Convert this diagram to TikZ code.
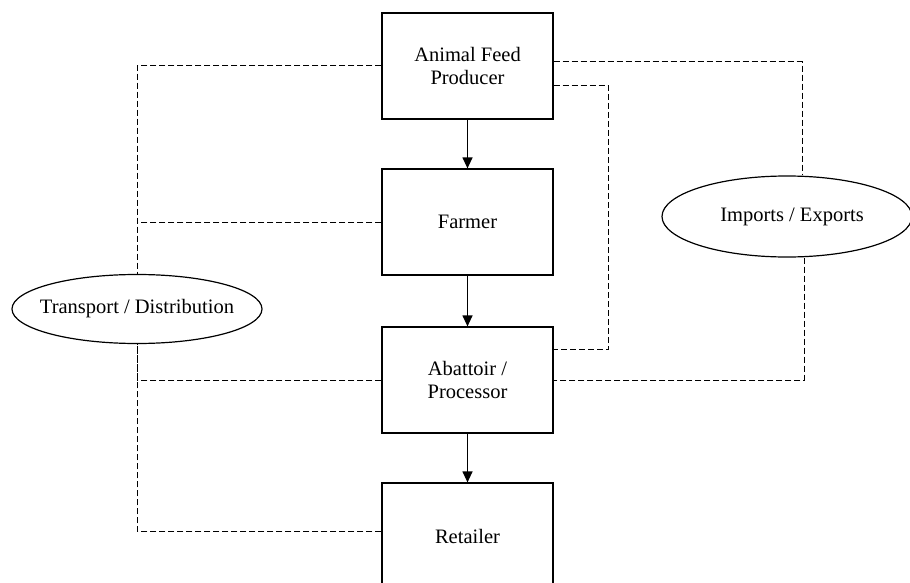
\documentclass[tikz,border=0pt]{standalone}
\usepackage{fontspec}
\setmainfont{Liberation Serif}
\usetikzlibrary{arrows.meta,shapes.geometric}
\begin{document}
\begin{tikzpicture}[x=1pt,y=-1pt,
  stage/.style={draw,line width=1.2pt,minimum width=171pt,minimum height=106pt,
    align=center,inner sep=0pt,font=\fontsize{20.5}{23}\selectfont},
  role/.style={draw,ellipse,line width=1.2pt,inner sep=0pt,
    font=\fontsize{20.5}{23}\selectfont},
  flow/.style={line width=1.2pt,-{Triangle[length=11pt,width=10pt]}},
  link/.style={dash pattern=on 6pt off 3pt,line width=1pt}]
\useasboundingbox (0,0) rectangle (910,583);
\clip (0,0) rectangle (910,583);

% supply chain stages
\node[stage] (feed)     at (467.5,66)  {Animal Feed\\Producer};
\node[stage] (farmer)   at (467.5,222) {Farmer};
\node[stage] (abattoir) at (467.5,380) {Abattoir /\\Processor};
\node[stage] (retailer) at (467.5,536) {Retailer};

% supporting activities (fixed-size ellipses, text set in zero-width boxes)
\node[role,minimum width=250pt,minimum height=69pt] (transport) at (137,309)
  {\makebox[0pt]{Transport / Distribution}};
\node[role,minimum width=250pt,minimum height=81pt] (imports) at (787,216.5)
  {\makebox[0pt]{\hspace{10pt}Imports / Exports}};

% product flow
\draw[flow] (feed) -- (farmer);
\draw[flow] (farmer) -- (abattoir);
\draw[flow] (abattoir) -- (retailer);

% transport links
\draw[link] (feed.west) -| (transport.north);
\draw[link] (farmer.west) -- (farmer.west -| transport.north);
\draw[link] (abattoir.west) -| (transport.south);
\draw[link] ([yshift=5pt]retailer.west) -| (transport.south);

% direct feed supply to processor
\draw[link] ([yshift=-20pt]feed.east) -- ++(55,0) |- ([yshift=31pt]abattoir.east);

% trade links
\draw[link] ([yshift=4pt]feed.east) -| ([xshift=15pt]imports.north);
\draw[link] ([xshift=17pt]imports.south) |- (abattoir.east);
\end{tikzpicture}
\end{document}
